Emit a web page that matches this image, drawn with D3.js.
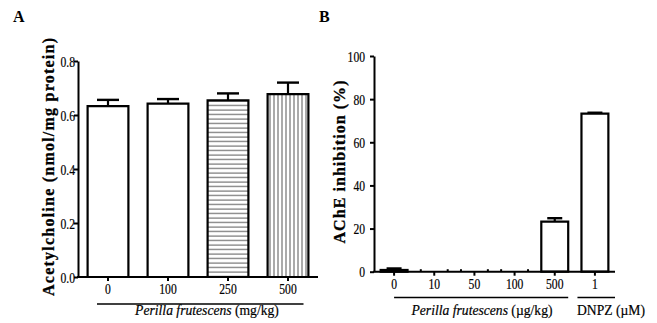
<!DOCTYPE html>
<html><head><meta charset="utf-8">
<script src="https://cdn.jsdelivr.net/npm/d3@7"></script>
<style>
body{margin:0;background:#fff;}
text{font-family:"Liberation Serif","Times New Roman",serif;fill:#000;}
</style></head>
<body>
<svg id="c" width="657" height="323"></svg>
<script>
// Panel A data
const catsA = ["0","100","250","500"];
const valsA = [0.633, 0.642, 0.654, 0.677];
const errA  = [0.023, 0.017, 0.026, 0.043];
const fillA = ["none","none","hatchH","hatchV"];
const ticksA = [0.0, 0.2, 0.4, 0.6, 0.8];
// Panel B data
const catsB = ["0","10","50","100","500","1"];
const valsB = [0.8, 0, 0, 0, 23.2, 73.3];
const errB  = [0.7, 0, 0, 0, 1.6, 0.4];
const ticksB = [0, 20, 40, 60, 80, 100];

const TICK_FS = 14.5, TICK_SX = 0.8;

const svg = d3.select("#c");
const defs = svg.append("defs");
const ph = defs.append("pattern").attr("id","hatchH").attr("patternUnits","userSpaceOnUse").attr("width",4).attr("height",4.5);
ph.append("rect").attr("width",4).attr("height",4.5).attr("fill","#fff");
ph.append("line").attr("x1",0).attr("x2",4).attr("y1",2).attr("y2",2).attr("stroke","#555").attr("stroke-width",1);
const pv = defs.append("pattern").attr("id","hatchV").attr("patternUnits","userSpaceOnUse").attr("width",4).attr("height",4);
pv.append("rect").attr("width",4).attr("height",4).attr("fill","#fff");
pv.append("line").attr("y1",0).attr("y2",4).attr("x1",2).attr("x2",2).attr("stroke","#555").attr("stroke-width",1);

function panel(o){
  const g = svg.append("g");
  const x = d3.scaleBand().domain(o.cats).range([o.x0, o.x1]).paddingInner(o.pad).paddingOuter(o.pad/2);
  const y = d3.scaleLinear().domain([0, o.ymax]).range([o.y0, o.y1]);
  const bw = x.bandwidth();
  o.cats.forEach((c,i)=>{
    const v = o.vals[i], e = o.errs[i];
    const l = x(c), r = x(c)+bw, top = y(v);
    if (v > 0) {
      g.append("path").attr("d", `M${l},${o.y0}V${top}H${r}V${o.y0}Z`)
        .attr("fill", o.fills && o.fills[i] !== "none" ? `url(#${o.fills[i]})` : "#fff")
        .attr("stroke","#000").attr("stroke-width",2.2);
    } else {
      [l, r].forEach(xx => g.append("line").attr("x1",xx).attr("x2",xx).attr("y1",o.y0).attr("y2",o.y0-2.5).attr("stroke","#000").attr("stroke-width",2));
    }
    if (e > 0) {
      const cx = l + bw/2, et = y(v+e);
      g.append("line").attr("x1",cx).attr("x2",cx).attr("y1",top).attr("y2",et).attr("stroke","#000").attr("stroke-width",2.2);
      g.append("line").attr("x1",cx-o.cap/2).attr("x2",cx+o.cap/2).attr("y1",et).attr("y2",et).attr("stroke","#000").attr("stroke-width",2.4);
    }
  });
  const ya = g.append("g").attr("transform",`translate(${o.x0},0)`)
    .call(d3.axisLeft(y).tickValues(o.ticks).tickFormat(o.fmt).tickSize(4).tickSizeOuter(0));
  ya.select(".domain").attr("stroke-width",2);
  ya.selectAll(".tick line").attr("stroke-width",2);
  ya.selectAll("text").attr("font-size",TICK_FS).attr("x",0).attr("dy","0.35em")
    .attr("stroke","#000").attr("stroke-width",0.2)
    .attr("transform",`translate(${o.ylx},0) scale(${TICK_SX},1)`);
  const xa = g.append("g").attr("transform",`translate(0,${o.y0})`)
    .call(d3.axisBottom(x).tickSize(4).tickSizeOuter(0));
  xa.select(".domain").attr("stroke-width",2).attr("d",`M${o.x0-1},0H${o.x1}`);
  xa.selectAll(".tick line").attr("stroke-width",2);
  xa.selectAll("text").attr("font-size",TICK_FS).attr("y",0).attr("dy",0)
    .attr("stroke","#000").attr("stroke-width",0.2)
    .attr("transform",`translate(0,${o.xly}) scale(${TICK_SX},1)`);
  g.append("text").attr("transform",`translate(${o.ytx},${o.yty}) rotate(-90)`)
    .attr("text-anchor","middle").attr("font-weight","bold").attr("font-size",16)
    .attr("stroke","#000").attr("stroke-width",0.3)
    .attr("textLength",o.ytl).attr("lengthAdjust","spacing").text(o.ytitle);
  return {x,y,bw,g};
}

const A = panel({cats:catsA, vals:valsA, errs:errA, fills:fillA, ticks:ticksA, fmt:d3.format(".1f"),
  x0:78, x1:318, y0:277, y1:61, ymax:0.8, pad:0.32, cap:22, xly:16.5, ylx:-3,
  ytx:54, yty:167, ytl:258, ytitle:"Acetylcholine (nmol/mg protein)"});
const B = panel({cats:catsB, vals:valsB, errs:errB, ticks:ticksB, fmt:d3.format("d"),
  x0:374, x1:615, y0:271.7, y1:56, ymax:100, pad:0.33, cap:15, xly:17.5, ylx:-9,
  ytx:345, yty:162, ytl:163, ytitle:"AChE inhibition (%)"});

function under(g, x1, x2, yy){ g.append("line").attr("x1",x1).attr("x2",x2).attr("y1",yy).attr("y2",yy).attr("stroke","#000").attr("stroke-width",1.3); }
function label(g, cx, yy, parts){
  const t = g.append("text").attr("transform",`translate(${cx},${yy}) scale(0.88,1)`).attr("text-anchor","middle").attr("font-size",15.5)
    .attr("stroke","#000").attr("stroke-width",0.2);
  parts.forEach(p => t.append("tspan").attr("font-style", p[1] ? "italic" : "normal").text(p[0]));
}
under(A.g, A.x(catsA[0])+A.bw*0.23, A.x(catsA[3])+A.bw*0.88, 304);
label(A.g, 207, 315, [["Perilla frutescens",1],[" (mg/kg)",0]]);

under(B.g, B.x(catsB[0])+B.bw/2, B.x(catsB[4])+B.bw, 297.5);
under(B.g, B.x(catsB[5])-4, 615, 297.5);
label(B.g, 482, 315, [["Perilla frutescens",1],[" (µg/kg)",0]]);
label(B.g, 611, 315, [["DNPZ (µM)",0]]);

svg.append("text").attr("x",13).attr("y",22).attr("font-weight","bold").attr("font-size",16).text("A");
svg.append("text").attr("x",319).attr("y",22).attr("font-weight","bold").attr("font-size",16).text("B");
</script>
</body></html>
